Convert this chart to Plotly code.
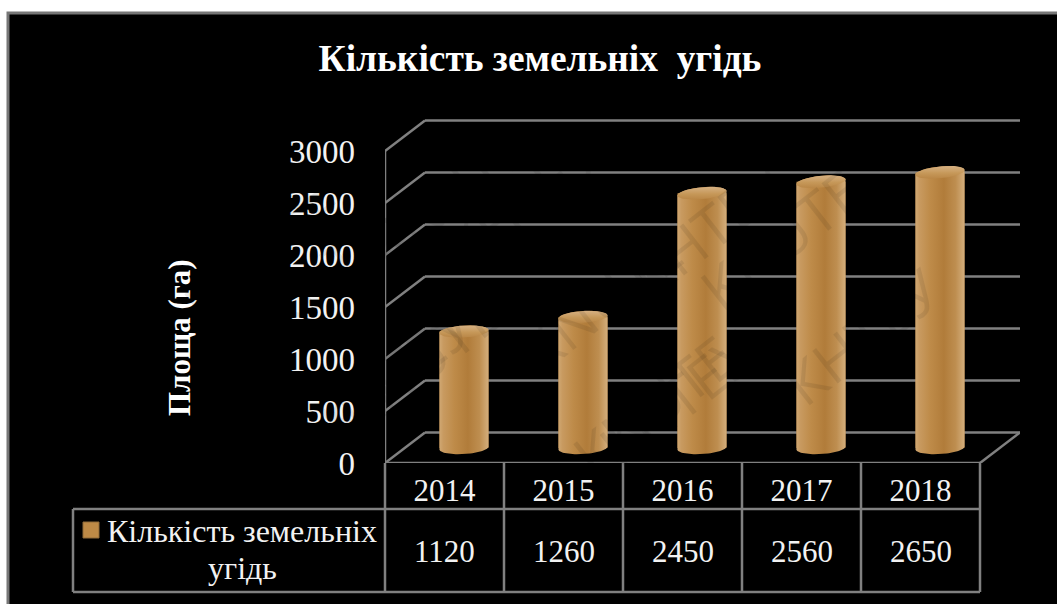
import math

import numpy as np
import plotly.graph_objects as go

# Chart content
title_text = "Кількість земельніх\u00a0\u00a0угідь"
axis_title = "Площа (га)"
series_name = ["Кількість земельніх", "угідь"]
years = ["2014", "2015", "2016", "2017", "2018"]
values = [1120, 1260, 2450, 2560, 2650]
y_ticks = [0, 500, 1000, 1500, 2000, 2500, 3000]

# Canvas and axes geometry, in page pixels
W, H = 1057, 604
PLOT_L, PLOT_R = 385, 1020
Y_ZERO, Y_3000, PLOT_T = 463, 151, 116
CAT_W = 119.0
PX_PER_UNIT = (Y_ZERO - Y_3000) / 3000
DEPTH_X, DEPTH_Y = 40, 30.5

GRID = "#808080"
TEXT = "#f2f2f2"
FONT = "Liberation Serif"


def dx(px):
    return px / CAT_W


def dy(px):
    return px / PX_PER_UNIT


def px_x(px):
    return px / W


def px_y(px):
    return 1 - px / H


x_min = -0.5
x_front_end = 4.5
x_max = x_min + dx(PLOT_R - PLOT_L)
y_max = dy(Y_ZERO - PLOT_T)
positions = list(range(len(years)))


def rule(x0, y0, x1, y1, ref="data", color=GRID, width=2.5):
    xref, yref = ("x", "y") if ref == "data" else ("paper", "paper")
    return dict(type="line", x0=x0, y0=y0, x1=x1, y1=y1, xref=xref, yref=yref,
                layer="below", line=dict(color=color, width=width))


shapes = [
    # dark panel with its grey frame
    dict(type="rect", xref="paper", yref="paper", layer="below",
         x0=px_x(8), x1=px_x(1060), y0=px_y(13), y1=px_y(606),
         fillcolor="#000000", line=dict(color="#777777", width=3)),
]

# Side-wall and back-wall grid lines for every tick
for t in y_ticks:
    shapes.append(rule(x_min, t, x_min + dx(DEPTH_X), t + dy(DEPTH_Y)))
    shapes.append(rule(x_min + dx(DEPTH_X), t + dy(DEPTH_Y), x_max, t + dy(DEPTH_Y)))

# Front axis and the floor edges
shapes.append(rule(x_min, 0, x_min, 3000))
shapes.append(rule(x_min, 0, x_front_end, 0))
shapes.append(rule(x_front_end, 0, x_max, dy(DEPTH_Y)))

# Data table under the plot
ROW_TOP, ROW_MID, ROW_BOT, LEGEND_L = 463, 509, 592, 73
for i in range(len(years) + 1):
    xp = PLOT_L + i * CAT_W
    shapes.append(rule(px_x(xp), px_y(ROW_TOP), px_x(xp), px_y(ROW_BOT), ref="paper"))
shapes.append(rule(px_x(LEGEND_L), px_y(ROW_MID), px_x(PLOT_L + 5 * CAT_W), px_y(ROW_MID), ref="paper"))
shapes.append(rule(px_x(LEGEND_L), px_y(ROW_BOT), px_x(PLOT_L + 5 * CAT_W), px_y(ROW_BOT), ref="paper"))
shapes.append(rule(px_x(LEGEND_L), px_y(ROW_MID), px_x(LEGEND_L), px_y(ROW_BOT), ref="paper"))

# Legend key
shapes.append(dict(type="rect", xref="paper", yref="paper", layer="above",
                   x0=px_x(83), x1=px_x(99), y0=px_y(522), y1=px_y(538),
                   fillcolor="#BE8A46", line=dict(color="#8f6a38", width=1)))

fig = go.Figure()

# Column bodies, set back on the floor by half the depth
col_offset = dx(19.5)
col_base = dy(15)
col_half = dx(24.5)
cap_ry = dy(6)

fig.add_trace(go.Bar(
    x=[p + col_offset for p in positions], y=values, base=col_base,
    width=2 * col_half, marker=dict(color="#B98441", line=dict(width=0)),
    name=" ".join(series_name), showlegend=False, hoverinfo="skip",
))

BODY_SCALE = [[0, "#D0A873"], [0.08, "#C89A60"], [0.3, "#BE8B49"], [0.58, "#B17C3A"],
              [0.82, "#BE8E50"], [1, "#D4AE7C"]]
CAP_SCALE = [[0, "#B98646"], [0.45, "#C69859"], [1, "#D6B183"]]

t = np.linspace(0, 2 * np.pi, 73)
for p, v in zip(positions, values):
    cx = p + col_offset
    top = v + col_base
    tilt_top = 1.5 + v / 800
    tilt_bot = 3.0
    # Wall outline: up the left edge, across the rim, down the right edge, round the base
    rim = np.linspace(np.pi, 2 * np.pi, 37)
    base_arc = np.linspace(0, np.pi, 37)
    body_x = np.concatenate([cx + col_half * np.cos(rim), cx + col_half * np.cos(base_arc)])
    body_y = np.concatenate([
        top - cap_ry * np.sin(rim) + dy(tilt_top / 2) * np.cos(rim),
        col_base - cap_ry * np.sin(base_arc) + dy(tilt_bot / 2) * np.cos(base_arc),
    ])
    fig.add_trace(go.Scatter(
        x=body_x, y=body_y, mode="lines", line=dict(width=0), fill="toself",
        fillgradient=dict(type="horizontal", colorscale=BODY_SCALE),
        showlegend=False, hoverinfo="skip",
    ))
    # Lighter elliptical top
    cap_x = cx + col_half * np.cos(t)
    cap_y = top - cap_ry * np.sin(t) + dy(tilt_top / 2) * np.cos(t)
    fig.add_trace(go.Scatter(
        x=cap_x, y=cap_y, mode="lines", line=dict(width=0), fill="toself",
        fillgradient=dict(type="vertical", colorscale=CAP_SCALE),
        showlegend=False, hoverinfo="skip",
    ))

annotations = []


def label(text, xp, yp, size=31, bold=False, color=TEXT, rot=0):
    body = f"<b>{text}</b>" if bold else text
    annotations.append(dict(
        text=body, x=px_x(xp), y=px_y(yp), xref="paper", yref="paper", showarrow=False,
        xanchor="center", yanchor="middle", textangle=rot,
        font=dict(family=FONT, size=size, color=color),
    ))


label(axis_title, 179, 338, size=31, bold=True, color="#ffffff", rot=-90)
label(series_name[0], 242, 531, size=32)
label(series_name[1], 242, 568, size=32)
for p, v in zip(positions, values):
    label(str(v), PLOT_L + (p + 0.5) * CAT_W, 551)

# Diagonal watermark words in alternating chains; black ink only shows on lit areas
WM_WORDS = ["KNUTE", "КНТЕУ"]
WM_ANGLE = math.radians(38)
ux, uy = math.cos(WM_ANGLE), -math.sin(WM_ANGLE)
vx, vy = math.sin(WM_ANGLE), math.cos(WM_ANGLE)
for i in range(-6, 9):
    for j in range(-6, 9):
        xp = 600 + i * 260 * ux + j * 125 * vx
        yp = 300 + i * 260 * uy + j * 125 * vy
        # only words that stay whole on the page
        if 95 <= xp <= W - 95 and 80 <= yp <= H - 80:
            annotations.append(dict(
                text=WM_WORDS[(i + j) % 2], x=px_x(xp), y=px_y(yp), xref="paper", yref="paper",
                showarrow=False, textangle=-38,
                font=dict(family="Open Sans", size=58, color="rgba(0,0,0,0.08)"),
            ))

fig.update_layout(
    width=W, height=H,
    margin=dict(l=0, r=0, t=0, b=0),
    paper_bgcolor="#ffffff", plot_bgcolor="rgba(0,0,0,0)",
    barmode="overlay", showlegend=False,
    title=dict(text=f"<b>{title_text}</b>", x=540 / W, y=px_y(58), xanchor="center", yanchor="middle",
               xref="paper", yref="paper", font=dict(family=FONT, size=37.4, color="#ffffff")),
    xaxis=dict(domain=[PLOT_L / W, PLOT_R / W], range=[x_min, x_max], showgrid=False, zeroline=False,
               showline=False, ticks="", tickmode="array", tickvals=positions, ticktext=years,
               ticklabelstandoff=6, automargin=False, tickfont=dict(family=FONT, size=31, color=TEXT)),
    yaxis=dict(domain=[1 - Y_ZERO / H, 1 - PLOT_T / H], range=[0, y_max], showgrid=False, zeroline=False,
               showline=False, ticks="", tickmode="array", tickvals=y_ticks,
               ticklabelstandoff=29, automargin=False, tickfont=dict(family=FONT, size=33, color=TEXT)),
    shapes=shapes, annotations=annotations,
)

fig.write_html("out.html", config=dict(displayModeBar=False))
